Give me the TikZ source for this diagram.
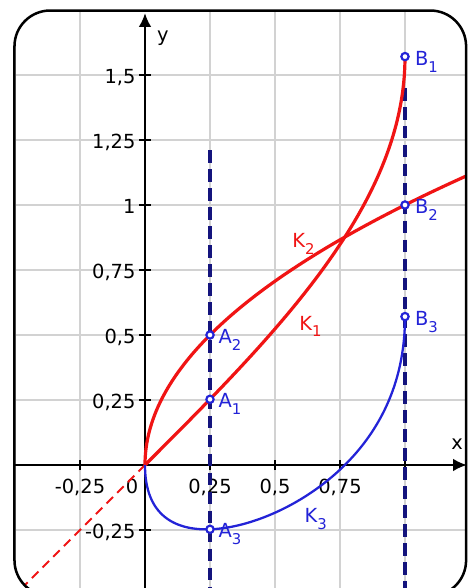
\documentclass[tikz,border=0pt]{standalone}
\usepackage{fontspec}
\setmainfont{DejaVu Sans}
\usetikzlibrary{arrows.meta, positioning}
\definecolor{curvered}{RGB}{240,20,20}
\definecolor{curveblue}{RGB}{35,35,215}
\definecolor{guidenavy}{RGB}{20,20,125}
\definecolor{gridgray}{RGB}{210,210,210}
\newcommand{\idx}[1]{\raisebox{-3pt}{\fontsize{6.5}{7}\selectfont #1}}

\begin{document}
\begin{tikzpicture}[
    x=4cm, y=4cm,
    font=\fontsize{8.5}{10}\selectfont,
    gridline/.style={draw=gridgray, line width=0.6pt},
    axis/.style={-{Latex[length=6pt,width=5.5pt]}, line width=0.9pt, black},
    tickmark/.style={line width=0.9pt, black},
    guide/.style={draw=guidenavy, line width=1.5pt, dash pattern=on 5.5pt off 2.8pt},
    redcurve/.style={draw=curvered, line width=1.4pt},
    bluecurve/.style={draw=curveblue, line width=1pt},
    pt/.style={circle, draw=curveblue, fill=white, line width=0.95pt, inner sep=0pt, minimum size=3.2pt},
    ptlabel/.style={text=curveblue, inner sep=0pt, anchor=base west},
    klabel/.style={text=curvered, inner sep=0pt, anchor=base west}
]
\useasboundingbox (-0.5577,-0.4731) rectangle (1.2423,1.7885);

% Grid inside the frame
\begin{scope}
\clip[rounded corners=0.55cm] (-0.502,-0.504) rectangle (1.235,1.748);
\foreach \g in {-0.5,-0.25,0.25,0.5,0.75,1}
  \draw[gridline] (\g,-0.6) -- (\g,1.8);
\foreach \g in {-0.25,0.25,0.5,0.75,1,1.25,1.5}
  \draw[gridline] (-0.6,\g) -- (1.3,\g);
\end{scope}

% Axes
\coordinate (O) at (0,0);
\coordinate (xl) at (-0.502,0);
\coordinate (xr) at (1.238,0);
\coordinate (yb) at (0,-0.48);
\coordinate (yt) at (0,1.738);
\draw[axis] (xl) -- (xr);
\draw[axis] (yb) -- (yt);
\node[anchor=base] (xname) at (1.2,0.058) {x};
\node[anchor=base] (yname) at (0.069,1.63) {y};

% Ticks and their numbers
\foreach \t in {-0.25,0.25,0.5,0.75,1}
  \draw[tickmark] (\t,-0.02) -- (\t,0.02);
\foreach \t in {-0.25,0.25,0.5,0.75,1,1.25,1.5}
  \draw[tickmark] (-0.023,\t) -- (0.023,\t);
\foreach \t/\s in {-0.25/{-0,25},0.25/{0,25},0.5/{0,5},0.75/{0,75}}
  \node[anchor=base, inner sep=0pt] at (\t,-0.108) {\s};
\node[anchor=base, inner sep=0pt] (zero) at (-0.05,-0.108) {0};
\foreach \t/\s in {-0.25/{-0,25},0.25/{0,25},0.5/{0,5},0.75/{0,75},1/1,1.25/{1,25},1.5/{1,5}}
  \node[anchor=base east, inner sep=0pt] at (-0.035,\t-0.033) {\s};

% Dashed guides at x = 0.25 and x = 1
\coordinate (ga-top) at (0.25,1.21);
\coordinate (ga-bot) at (0.25,-0.5);
\coordinate (gb-top) at (1,1.45);
\coordinate (gb-bot) at (1,-0.5);
\draw[guide] (ga-top) -- (ga-bot);
\draw[guide] (gb-top) -- (gb-bot);

% Curves
\begin{scope}
\clip[rounded corners=0.55cm] (-0.502,-0.504) rectangle (1.235,1.748);
\coordinate (tail) at (-0.47,-0.47);
\draw[redcurve, line width=0.9pt, dash pattern=on 4pt off 2.6pt] (O) -- (tail);
\draw[redcurve] plot[domain=0:90, samples=90, smooth] ({sin(\x)},{rad(\x)});
\draw[redcurve] plot[domain=0:1.13, samples=60, smooth] ({\x*\x},{\x});
\draw[bluecurve] plot[domain=0:90, samples=90, smooth]
  ({pow(sin(\x),2)},{rad(asin(min(pow(sin(\x),2),1))) - sin(\x)});
\end{scope}

% Points
\node[pt] (A1) at (0.25,{rad(asin(0.25))}) {};
\node[pt] (A2) at (0.25,0.5) {};
\node[pt] (A3) at (0.25,{rad(asin(0.25))-0.5}) {};
\node[pt] (B1) at (1,{pi/2}) {};
\node[pt] (B2) at (1,1) {};
\node[pt] (B3) at (1,{pi/2-1}) {};

% Point labels
\node[ptlabel] (lA1) at ([xshift=3.6pt,yshift=-3.6pt]A1.center) {A\idx{1}};
\node[ptlabel] (lA2) at ([xshift=3.6pt,yshift=-3.6pt]A2.center) {A\idx{2}};
\node[ptlabel] (lA3) at ([xshift=3.6pt,yshift=-3.6pt]A3.center) {A\idx{3}};
\node[ptlabel] (lB1) at ([xshift=4.2pt,yshift=-3.8pt]B1.center) {B\idx{1}};
\node[ptlabel] (lB2) at ([xshift=4.2pt,yshift=-3.8pt]B2.center) {B\idx{2}};
\node[ptlabel] (lB3) at ([xshift=4.2pt,yshift=-3.8pt]B3.center) {B\idx{3}};

% Curve labels
\node[klabel] (k1) at (0.592,0.519) {K\idx{1}};
\node[klabel] (k2) at (0.565,0.835) {K\idx{2}};
\node[klabel, text=curveblue] (k3) at (0.612,-0.223) {K\idx{3}};

% Frame
\draw[line width=1.1pt, rounded corners=0.55cm] (-0.502,-0.504) rectangle (1.235,1.748);

\end{tikzpicture}
\end{document}
